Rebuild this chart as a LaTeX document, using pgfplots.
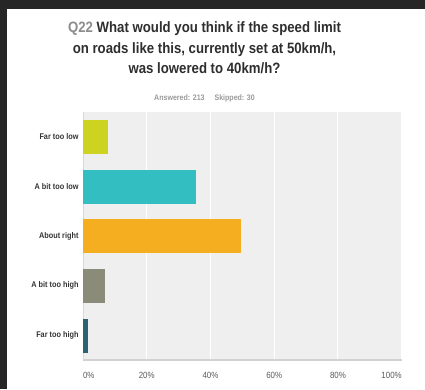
\documentclass[border=0pt]{standalone}
\usepackage{pgfplots}
\pgfplotsset{compat=1.18}
\usepackage{fontspec}
\setmainfont{Liberation Sans}
\newfontfamily\narrowfont{Liberation Sans}[FakeStretch=0.88]
\definecolor{bgdark}{HTML}{262626}
\definecolor{titlecol}{HTML}{2E2E2E}
\definecolor{qcol}{HTML}{8C8C8C}
\definecolor{subcol}{HTML}{9A9A9A}
\definecolor{labcol}{HTML}{333333}
\definecolor{tickcol}{HTML}{5A5A5A}
\definecolor{plotbg}{HTML}{EFEFEF}
\definecolor{axisgray}{HTML}{D2D2D2}
\definecolor{axisgraytwo}{HTML}{D8D8D8}
\definecolor{cA}{HTML}{CDD321}
\definecolor{cB}{HTML}{33BEC1}
\definecolor{cC}{HTML}{F5AE1F}
\definecolor{cD}{HTML}{8A8B79}
\definecolor{cE}{HTML}{2A6472}
\begin{document}
\begin{tikzpicture}[x=1pt,y=1pt]
\useasboundingbox (0,0) rectangle (425,389);
\fill[bgdark] (0,0) rectangle (425,389);
\fill[white] (7,0) rectangle (425,380);
\node[align=center, font=\narrowfont\bfseries\fontsize{15}{20.5}\selectfont, text=titlecol] at (204.5,341)
  {{\color{qcol}Q22} What would you think if the speed limit\\on roads like this, currently set at 50km/h,\\was lowered to 40km/h?};
\node[font=\narrowfont\bfseries\fontsize{8}{9}\selectfont, text=subcol] at (204.5,291)
  {Answered: 213\hspace{10pt}Skipped: 30};
\begin{axis}[
  at={(83pt,29pt)}, anchor=south west,
  scale only axis, width=318.7pt, height=248pt,
  xmin=0, xmax=100, ymin=-0.5, ymax=4.5, y dir=reverse,
  xbar, bar width=33pt, bar shift=0pt,
  ytick={0,1,2,3,4},
  yticklabels={Far too low, A bit too low, About right, A bit too high, Far too high},
  xtick={0,20,40,60,80,100},
  xticklabels={\makebox[0pt][l]{0\%},20\%,40\%,60\%,80\%,\makebox[0pt][r]{100\%}},
  major tick length=0pt,
  xmajorgrids, grid style={white, line width=1pt},
  axis background/.style={fill=plotbg},
  axis x line*=bottom, axis y line*=left,
  x axis line style={draw=axisgray, line width=1.5pt, -},
  y axis line style={draw=axisgraytwo, line width=0.8pt, -},
  xticklabel style={font=\narrowfont\fontsize{9}{10}\selectfont, text=tickcol, yshift=-8.5pt},
  yticklabel style={font=\narrowfont\bfseries\fontsize{8.3}{10}\selectfont, text=labcol, xshift=-1pt},
]
\addplot[fill=cA, draw=cA] coordinates {(7.51,0)};
\addplot[fill=cB, draw=cB] coordinates {(35.21,1)};
\addplot[fill=cC, draw=cC] coordinates {(49.30,2)};
\addplot[fill=cD, draw=cD] coordinates {(6.57,3)};
\addplot[fill=cE, draw=cE] coordinates {(1.41,4)};
\end{axis}
\end{tikzpicture}
\end{document}
